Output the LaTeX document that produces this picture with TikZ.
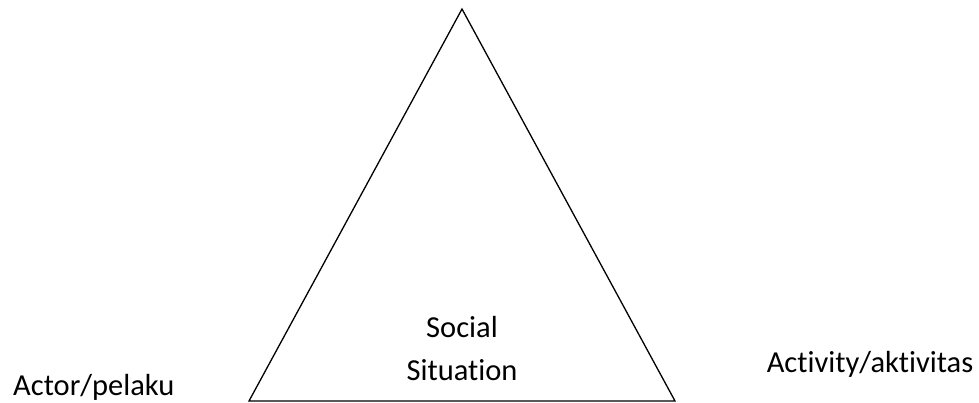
\documentclass[tikz,border=0pt]{standalone}
\usepackage{fontspec}
\setmainfont[Ligatures={NoCommon}]{Carlito}
\begin{document}
\begin{tikzpicture}[x=1pt,y=-1pt,
  lbl/.style={inner sep=0pt,font=\fontsize{30.5}{36}\selectfont},
  edge/.style={draw=black,line width=1.3pt,line join=miter}]
\useasboundingbox (0,0) rectangle (979,402);
\coordinate (apex) at (462,9);
\coordinate (bl) at (249,401);
\coordinate (br) at (675,401);
\draw[edge] (apex) -- (bl) -- (br) -- cycle;
\node[lbl,anchor=base] (social) at (462,337) {Social};
\node[lbl,anchor=base] (situation) at (462,380) {Situation};
\node[lbl,anchor=base west] (actor) at (13,395) {Actor/pelaku};
\node[lbl,anchor=base] (activity) at (870,372) {Activity/aktivitas};
\end{tikzpicture}
\end{document}
